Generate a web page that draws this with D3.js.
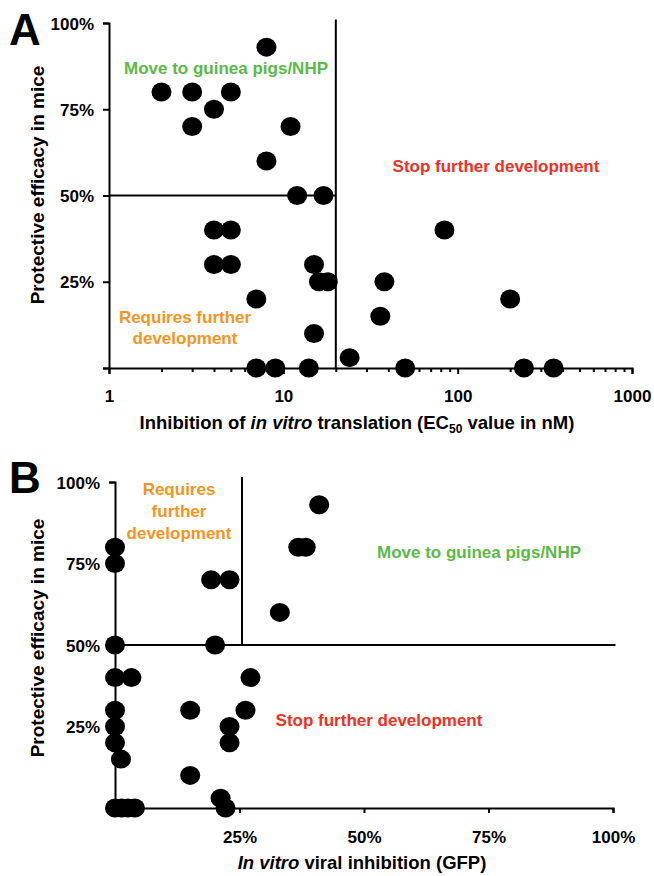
<!DOCTYPE html>
<html><head><meta charset="utf-8">
<script src="https://cdn.jsdelivr.net/npm/d3@7"></script>
<style>
body{margin:0;background:#fff;}
svg{display:block;font-family:"Liberation Sans",Arial,sans-serif;font-weight:bold;}
</style></head>
<body>
<svg id="c" width="654" height="876"></svg>
<script>
// Panel A data: EC50 (nM) vs protective efficacy (%)
const aEC50 = [8, 2, 3, 5, 4, 3, 11, 8, 12, 17, 4, 5, 4, 5, 15, 16, 18, 7, 38, 36, 84, 200, 15, 24, 7, 9, 14, 50, 240, 355];
const aEff  = [93, 80, 80, 80, 75, 70, 70, 60, 50, 50, 40, 40, 30, 30, 30, 25, 25, 20, 25, 15, 40, 20, 10, 3, 0, 0, 0, 0, 0, 0];
// Panel B data: viral inhibition (%) vs protective efficacy (%)
const bInh = [41, 36.8, 38.3, 33.1, 19.3, 23, 0, 0, 0, 20.1, 0, 3.3, 27.2, 0, 15.1, 26.2, 0, 23, 0, 23, 1.2, 15.1, 21.2, 22.2, 0, 1.3, 2.6, 4];
const bEff = [93, 80, 80, 60, 70, 70, 80, 75, 50, 50, 40, 40, 40, 30, 30, 30, 25, 25, 20, 20, 15, 10, 3, 0, 0, 0, 0, 0];
const effTicks = [0, 25, 50, 75, 100];
const aXLabels = [1, 10, 100, 1000];
const bXTicks = [0, 25, 50, 75, 100];
const aThresholdX = 20, aThresholdY = 50;
const bThresholdX = 25.5, bThresholdY = 50;

const GREEN = "#5cb947", RED = "#ee3124", ORANGE = "#f7941d";
const svg = d3.select("#c");
const FS = 17, TFS = 18.5;

function styleAxis(g){
  g.selectAll("path.domain").attr("stroke","#000").attr("stroke-width",2);
  g.selectAll(".tick line").attr("stroke","#000").attr("stroke-width",2);
  g.selectAll(".tick text").attr("font-family","Liberation Sans, Arial, sans-serif")
    .attr("font-weight","bold").attr("font-size",FS).attr("fill","#000");
}

// ---------- Panel A ----------
const xA = d3.scaleLog().domain([1,1000]).range([109,632]);
const yA = d3.scaleLinear().domain([0,100]).range([368,23]);
const aAll = [];
for (let e=0;e<3;e++) for (let m=1;m<10;m++) aAll.push(m*Math.pow(10,e));
aAll.push(1000);
const gAx = svg.append("g").attr("transform",`translate(0,${yA(0)})`)
  .call(d3.axisBottom(xA).tickValues(aAll).tickSizeOuter(0).tickSize(6)
    .tickFormat(d => aXLabels.includes(d) ? d3.format("d")(d) : "").tickPadding(16));
styleAxis(gAx);
gAx.selectAll(".tick line").attr("y2", d => aXLabels.includes(d) ? 6 : 4);
const gAy = svg.append("g").attr("transform",`translate(${xA(1)},0)`)
  .call(d3.axisLeft(yA).tickValues(effTicks).tickSizeOuter(0).tickSize(6)
    .tickFormat(d => d===0 ? "" : d+"%").tickPadding(9));
styleAxis(gAy);
gAy.selectAll(".tick text").attr("dy","0.36em");

svg.append("line").attr("x1",xA(aThresholdX)).attr("x2",xA(aThresholdX))
  .attr("y1",yA(101)).attr("y2",yA(0)).attr("stroke","#000").attr("stroke-width",2);
svg.append("line").attr("x1",xA(1)).attr("x2",xA(aThresholdX))
  .attr("y1",yA(aThresholdY)).attr("y2",yA(aThresholdY)).attr("stroke","#000").attr("stroke-width",2);

svg.append("g").selectAll("ellipse").data(aEC50.map((v,i)=>[v,aEff[i]])).join("ellipse")
  .attr("cx",d=>xA(d[0])).attr("cy",d=>yA(d[1])).attr("rx",10).attr("ry",9.5).attr("fill","#000");

function txt(x,y,s,col,anchor="middle",size=FS){
  return svg.append("text").attr("x",x).attr("y",y).attr("text-anchor",anchor)
    .attr("font-size",size).attr("fill",col).text(s);
}
txt(226,74,"Move to guinea pigs/NHP",GREEN);
txt(496,172,"Stop further development",RED);
txt(185,323,"Requires further",ORANGE);
txt(185,344,"development",ORANGE);

svg.append("text").attr("x",9).attr("y",45).attr("font-size",44).attr("fill","#000").text("A");

function yTitle(cy){
  svg.append("text").attr("transform",`translate(44,${cy}) rotate(-90)`)
    .attr("text-anchor","middle").attr("font-size",19).attr("fill","#000")
    .text("Protective efficacy in mice");
}
yTitle(185);

const tA = svg.append("text").attr("x",357).attr("y",429).attr("text-anchor","middle")
  .attr("font-size",TFS).attr("fill","#000");
tA.append("tspan").text("Inhibition of ");
tA.append("tspan").attr("font-style","italic").text("in vitro");
tA.append("tspan").text(" translation (EC");
tA.append("tspan").attr("font-size",12).attr("dy",4).text("50");
tA.append("tspan").attr("dy",-4).text(" value in nM)");

// ---------- Panel B ----------
const xB = d3.scaleLinear().domain([0,100]).range([115,613]);
const yB = d3.scaleLinear().domain([0,100]).range([808,482]);
const gBx = svg.append("g").attr("transform",`translate(0,${yB(0)})`)
  .call(d3.axisBottom(xB).tickValues(bXTicks).tickSizeOuter(0).tickSize(5)
    .tickFormat(d => d===0 ? "" : d+"%").tickPadding(18));
styleAxis(gBx);
const gBy = svg.append("g").attr("transform",`translate(${xB(0)},0)`)
  .call(d3.axisLeft(yB).tickValues(effTicks).tickSizeOuter(0).tickSize(6)
    .tickFormat(d => d===0 ? "" : d+"%").tickPadding(9));
styleAxis(gBy);
gBy.selectAll(".tick text").attr("dy","0.36em");

svg.append("line").attr("x1",xB(bThresholdX)).attr("x2",xB(bThresholdX))
  .attr("y1",yB(101.5)).attr("y2",yB(bThresholdY)).attr("stroke","#000").attr("stroke-width",2);
svg.append("line").attr("x1",xB(0)).attr("x2",xB(100.5))
  .attr("y1",yB(bThresholdY)).attr("y2",yB(bThresholdY)).attr("stroke","#000").attr("stroke-width",2);

svg.append("g").selectAll("ellipse").data(bInh.map((v,i)=>[v,bEff[i]])).join("ellipse")
  .attr("cx",d=>xB(d[0])).attr("cy",d=>yB(d[1])).attr("rx",10).attr("ry",9.5).attr("fill","#000");

txt(179,495,"Requires",ORANGE);
txt(179,517,"further",ORANGE);
txt(179,539,"development",ORANGE);
txt(479,558,"Move to guinea pigs/NHP",GREEN);
txt(379,726,"Stop further development",RED);

svg.append("text").attr("x",9).attr("y",493).attr("font-size",44).attr("fill","#000").text("B");
yTitle(638);

const tB = svg.append("text").attr("x",362).attr("y",869).attr("text-anchor","middle")
  .attr("font-size",TFS).attr("fill","#000");
tB.append("tspan").attr("font-style","italic").text("In vitro");
tB.append("tspan").text(" viral inhibition (GFP)");
</script>
</body></html>
